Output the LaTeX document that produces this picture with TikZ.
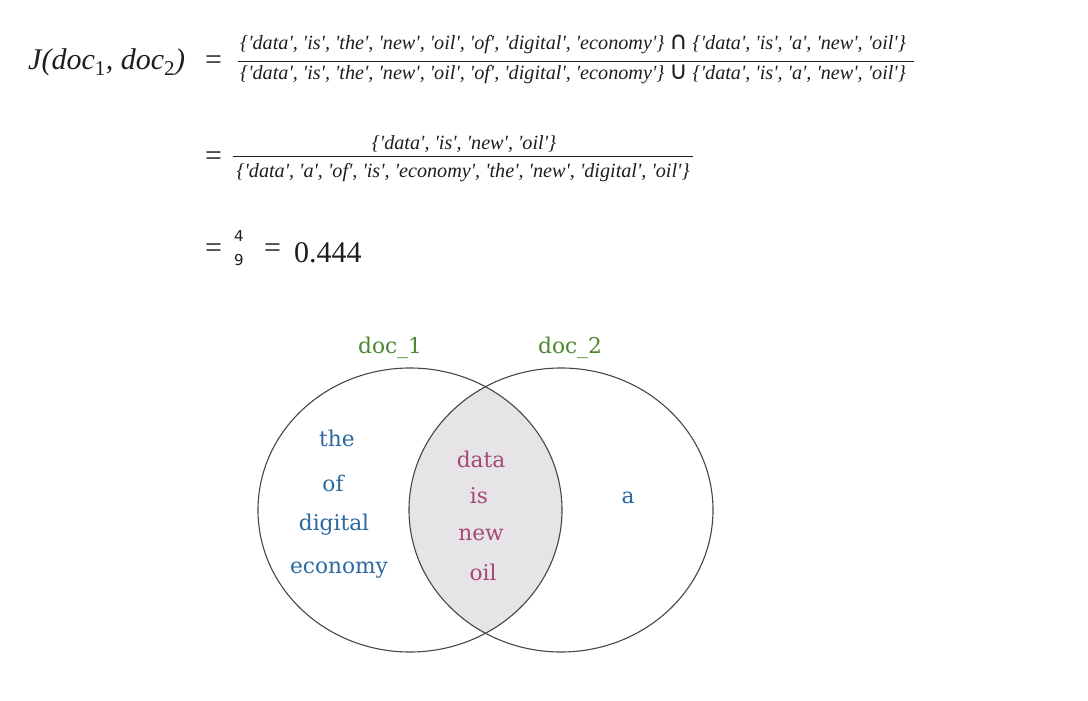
\documentclass[tikz,border=0pt]{standalone}
\usepackage{fontspec}
\setmainfont{DejaVu Serif}
\newfontfamily\formfont{Liberation Serif}
\newfontfamily\symfont{DejaVu Sans}
\usetikzlibrary{positioning}
\definecolor{docgreen}{RGB}{74,134,48}
\definecolor{wordblue}{RGB}{44,104,160}
\definecolor{wordpink}{RGB}{166,72,118}
\definecolor{overlapgray}{RGB}{230,228,230}
\definecolor{ringgray}{RGB}{70,70,70}
\definecolor{inkgray}{RGB}{30,30,30}
\newcommand{\wq}[1]{\textquotesingle#1\textquotesingle}
\newcommand{\docone}{\{\wq{data}, \wq{is}, \wq{the}, \wq{new}, \wq{oil}, \wq{of}, \wq{digital}, \wq{economy}\}}
\newcommand{\doctwo}{\{\wq{data}, \wq{is}, \wq{a}, \wq{new}, \wq{oil}\}}
\newcommand{\bigop}[1]{{\symfont\upshape\fontsize{25}{25}\selectfont#1}}
\tikzset{
  formula/.style={inner sep=0pt, anchor=base west, text=inkgray, font=\formfont\fontsize{30}{34}\selectfont},
  setlist/.style={inner sep=0pt, anchor=base west, text=inkgray, font=\formfont\itshape\fontsize{20.2}{24}\selectfont},
  digit/.style={inner sep=0pt, anchor=base, text=inkgray, font=\symfont\fontsize{15}{17}\selectfont},
  fracbar/.style={draw=inkgray, line width=0.8pt},
  ring/.style={draw=ringgray, line width=1.1pt},
  word/.style={inner sep=0pt, anchor=base, font=\fontsize{21.7}{24}\selectfont},
  label1/.style={word, text=docgreen},
  only/.style={word, text=wordblue},
  shared/.style={word, text=wordpink}
}

\begin{document}
\begin{tikzpicture}[x=1pt, y=-1pt]
  \useasboundingbox (0,0) rectangle (1088,701);

  % first line of the formula
  \node[formula] (jac) at (28,70) {\itshape J(doc\textsubscript{\upshape 1}, doc\textsubscript{\upshape 2})};
  \node[formula] (eq1) at (205,70) {=};
  \node[setlist] (num1) at (240,50) {\docone\ \bigop{∩} \doctwo};
  \node[setlist] (den1) at (240,80) {\docone\ \bigop{∪} \doctwo};
  \coordinate (bar1l) at (238,61.5);
  \coordinate (bar1r) at (914,61.5);
  \draw[fracbar] (bar1l) -- (bar1r);

  % second line
  \node[formula] (eq2) at (205,165) {=};
  \node[setlist, anchor=base] (num2) at (464,149) {\{\wq{data}, \wq{is}, \wq{new}, \wq{oil}\}};
  \node[setlist, anchor=base] (den2) at (463,177) {\{\wq{data}, \wq{a}, \wq{of}, \wq{is}, \wq{economy}, \wq{the}, \wq{new}, \wq{digital}, \wq{oil}\}};
  \coordinate (bar2l) at (233,156);
  \coordinate (bar2r) at (693,156);
  \draw[fracbar] (bar2l) -- (bar2r);

  % third line
  \node[formula] (eq3) at (205,257) {=};
  \node[digit] (four) at (239,241) {4};
  \node[digit] (nine) at (239,265) {9};
  \node[formula] (eq4) at (264,257) {=};
  \node[formula] (score) at (294,262) {0.444};

  % venn diagram
  \begin{scope}
    \clip (410,510) ellipse [x radius=152pt, y radius=142pt];
    \fill[overlapgray] (561,510) ellipse [x radius=152pt, y radius=142pt];
  \end{scope}
  \draw[ring] (410,510) ellipse [x radius=152pt, y radius=142pt];
  \draw[ring] (561,510) ellipse [x radius=152pt, y radius=142pt];

  \node[label1] (doc1) at (390,353) {doc\_1};
  \node[label1] (doc2) at (570,353) {doc\_2};

  \node[only] (the) at (337,446) {the};
  \node[only] (of) at (333,491) {of};
  \node[only] (digital) at (334,530) {digital};
  \node[only] (economy) at (339,573) {economy};
  \node[only] (a) at (628,503) {a};

  \node[shared] (data) at (481,467) {data};
  \node[shared] (is) at (479,503) {is};
  \node[shared] (new) at (481,540) {new};
  \node[shared] (oil) at (483,580) {oil};
\end{tikzpicture}
\end{document}
